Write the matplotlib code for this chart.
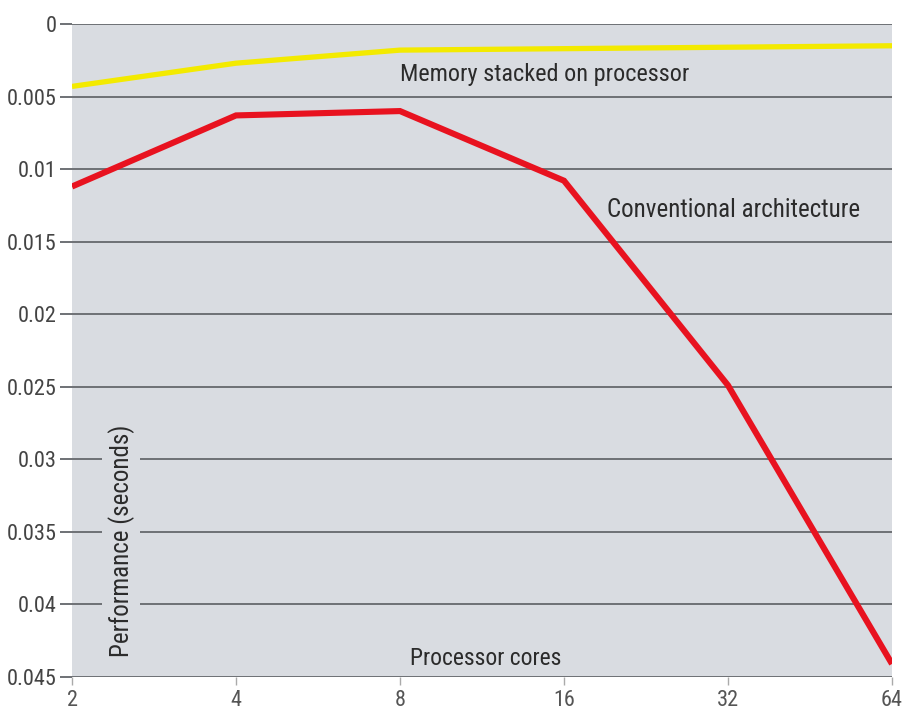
import numpy as np
import matplotlib
matplotlib.use('Agg')
import matplotlib.pyplot as plt

# Données
cores = ['2', '4', '8', '16', '32', '64']
conventional = [0.0112, 0.0063, 0.0060, 0.0108, 0.0249, 0.0441]
stacked = [0.0043, 0.0027, 0.0018, 0.0017, 0.0016, 0.0015]
yticks = [0, 0.005, 0.01, 0.015, 0.02, 0.025, 0.03, 0.035, 0.04, 0.045]
ytick_labels = ['0', '0.005', '0.01', '0.015', '0.02', '0.025', '0.03', '0.035', '0.04', '0.045']

plt.rcParams['font.family'] = ['Roboto Condensed', 'Roboto', 'DejaVu Sans']

bg = '#d9dce1'
grid_c = '#6e7175'
txt_c = '#2b2b2b'

fig = plt.figure(figsize=(9.02, 7.10), dpi=100)
ax = fig.add_axes([72 / 902, 1 - 677 / 710, 820 / 902, 653 / 710])
ax.set_facecolor(bg)

x = np.arange(len(cores))
ax.plot(x, stacked, color='#f3ea00', linewidth=3.8, solid_capstyle='butt', zorder=4)
ax.plot(x, conventional, color='#e8121f', linewidth=4.4, solid_joinstyle='miter',
        solid_capstyle='butt', zorder=4)

ax.set_xlim(0, 5)
ax.set_ylim(0.045, 0)
ax.set_xticks(x)
ax.set_xticklabels(cores)
ax.set_yticks(yticks)
ax.set_yticklabels(ytick_labels)

for s in ax.spines.values():
    s.set_visible(False)

ax.yaxis.grid(True, color=grid_c, linewidth=1.4, zorder=1)
ax.set_axisbelow(True)
ax.tick_params(axis='y', length=9, width=1.4, color=grid_c, labelsize=16,
               labelcolor='#444444', pad=2)
ax.tick_params(axis='x', length=6, width=1, color='#aaaaaa', labelsize=16,
               labelcolor='#555555', pad=3)

box = dict(facecolor=bg, edgecolor='none', pad=3)
ax.text(2.0, 0.0035, 'Memory stacked on processor', fontsize=17.5, color=txt_c,
        ha='left', va='center', bbox=box, zorder=3)
ax.text(3.26, 0.0128, 'Conventional architecture', fontsize=18, color=txt_c,
        ha='left', va='center', bbox=box, zorder=3)
ax.text(2.06, 0.0437, 'Processor cores', fontsize=17, color=txt_c,
        ha='left', va='center', bbox=box, zorder=3)
ax.text(0.3, 0.0436, 'Performance (seconds)', fontsize=18, color=txt_c,
        rotation=90, ha='center', va='bottom', zorder=3,
        bbox=dict(facecolor=bg, edgecolor='none', pad=4))

fig.savefig('out.png', dpi=100)
